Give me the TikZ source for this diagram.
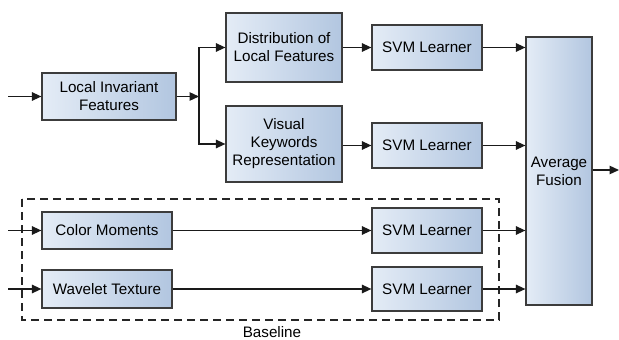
\documentclass[tikz,border=0pt]{standalone}
\usepackage{fontspec}
\setmainfont{Liberation Sans}
\usetikzlibrary{arrows.meta}
\definecolor{boxlight}{HTML}{E4ECF6}
\definecolor{boxdark}{HTML}{B2C6E0}
\definecolor{boxedge}{HTML}{3C3C3C}
\definecolor{linecol}{HTML}{1A1A1A}
\begin{document}
\begin{tikzpicture}[x=1pt,y=-1pt,
  box/.style={draw=boxedge, line width=1.2pt, left color=boxlight, right color=boxdark,
    align=center, inner sep=2pt, font=\fontsize{15.2}{18}\selectfont},
  conn/.style={draw=linecol, line width=1.3pt, -{Triangle[length=9.5pt,width=8.5pt]}},
  frame/.style={draw=black!85, line width=1.1pt, dash pattern=on 8pt off 5pt}]
\useasboundingbox (0,0) rectangle (619,340);
\fill[white] (0,0) rectangle (619,340);
\node[box, minimum width=134pt, minimum height=47pt] (lif) at (109,96.5) {Local Invariant\\Features};
\node[box, minimum width=116pt, minimum height=69pt] (dist) at (284,47.5) {Distribution of\\Local Features};
\node[box, minimum width=116pt, minimum height=76pt] (vis) at (284,144) {Visual\\Keywords\\Representation};
\node[box, minimum width=110pt, minimum height=45pt] (svma) at (427,47.5) {SVM Learner};
\node[box, minimum width=110pt, minimum height=45pt] (svmb) at (427,145.5) {SVM Learner};
\node[box, minimum width=66pt, minimum height=268pt] (fus) at (559,171) {Average\\Fusion};
\node[box, minimum width=130pt, minimum height=37pt] (col) at (107,230.5) {Color Moments};
\node[box, minimum width=130pt, minimum height=38pt] (wav) at (107,289) {Wavelet Texture};
\node[box, minimum width=110pt, minimum height=45pt] (svmc) at (427,230.5) {SVM Learner};
\node[box, minimum width=110pt, minimum height=44pt] (svmd) at (427,289) {SVM Learner};
\draw[frame] (22,199) rectangle (499,320);
\node[font=\fontsize{15.2}{18}\selectfont, inner sep=0pt, anchor=base] (base) at (272,337) {Baseline};
\coordinate (ina) at (8,96.5);
\coordinate (inb) at (8,230.5);
\coordinate (inc) at (8,289);
\coordinate (br) at (199,96.5);
\coordinate (out) at (619,170);
\draw[conn] (ina) -- (lif.west);
\draw[conn] (inb) -- (col.west);
\draw[conn] (inc) -- (wav.west);
\draw[conn] (lif.east) -- (br);
\draw[conn] (br) |- (dist.west);
\draw[conn] (br) |- (vis.west);
\draw[conn] (dist.east) -- (svma.west);
\draw[conn] (vis.east |- svmb.west) -- (svmb.west);
\draw[conn] (col.east) -- (svmc.west);
\draw[conn] (wav.east) -- (svmd.west);
\draw[conn] (svma.east) -- (svma.east -| fus.west);
\draw[conn] (svmb.east) -- (svmb.east -| fus.west);
\draw[conn] (svmc.east) -- (svmc.east -| fus.west);
\draw[conn] (svmd.east) -- (svmd.east -| fus.west);
\draw[conn] (fus.east |- out) -- (out);
\end{tikzpicture}
\end{document}
